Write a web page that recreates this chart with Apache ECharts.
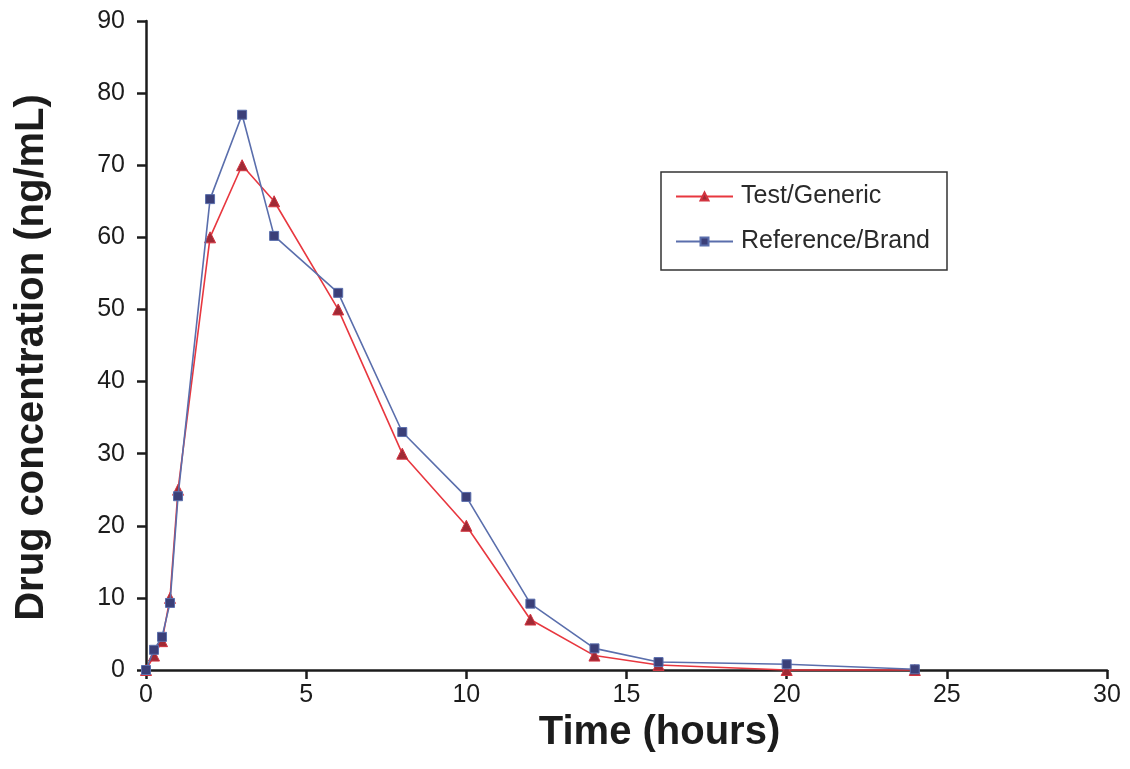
<!DOCTYPE html>
<html>
<head>
<meta charset="utf-8">
<script src="https://cdn.jsdelivr.net/npm/echarts@6/dist/echarts.min.js"></script>
<style>
  html, body { margin: 0; padding: 0; background: #ffffff; }
  #chart { width: 1130px; height: 769px; }
</style>
</head>
<body>
<div id="chart"></div>
<script>
// Sampling times (hours) and mean plasma concentrations (ng/mL)
const timeHours = [0, 0.25, 0.5, 0.75, 1, 2, 3, 4, 6, 8, 10, 12, 14, 16, 20, 24];
const testGeneric = [0, 2, 4, 10, 25, 60, 70, 65, 50, 30, 20, 7, 2, 0.7, 0, 0];
const referenceBrand = [0, 2.8, 4.6, 9.3, 24.1, 65.3, 77, 60.2, 52.3, 33, 24, 9.2, 3, 1.1, 0.8, 0.1];

const seriesNames = ['Test/Generic', 'Reference/Brand'];
const xAxisTitle = 'Time (hours)';
const yAxisTitle = 'Drug concentration (ng/mL)';

const FONT = '"Liberation Sans", Arial, Helvetica, sans-serif';
const INK = '#1c1c1c';

function pairs(xs, ys) {
  return xs.map((x, i) => [x, ys[i]]);
}

const axisCommon = {
  axisLine: { show: true, onZero: false, lineStyle: { color: INK, width: 2.5 } },
  axisTick: { show: true, length: 9, inside: false, lineStyle: { color: INK, width: 2.5 } },
  splitLine: { show: false },
  nameLocation: 'middle',
  nameTextStyle: { fontFamily: FONT, fontWeight: 'bold', fontSize: 40, color: INK }
};

const chart = echarts.init(document.getElementById('chart'), null, { renderer: 'canvas' });

chart.setOption({
  backgroundColor: '#ffffff',
  animation: false,
  grid: { left: 146, right: 23, top: 21, bottom: 99, containLabel: false },
  legend: {
    orient: 'vertical',
    left: 661,
    top: 172,
    padding: [12, 17, 16, 14],
    itemGap: 20,
    itemWidth: 57,
    itemHeight: 10,
    borderColor: '#333333',
    borderWidth: 1.5,
    textStyle: { fontFamily: FONT, fontSize: 25, color: '#2a2a2a', padding: [0, 0, 0, 3] },
    data: seriesNames
  },
  xAxis: Object.assign({}, axisCommon, {
    type: 'value',
    min: 0,
    max: 30,
    interval: 5,
    name: xAxisTitle,
    nameGap: 43,
    nameTextStyle: Object.assign({}, axisCommon.nameTextStyle, { padding: [0, 0, 0, 66] }),
    axisLabel: { fontFamily: FONT, fontSize: 25, color: INK, margin: 13 }
  }),
  yAxis: Object.assign({}, axisCommon, {
    type: 'value',
    min: 0,
    max: 90,
    interval: 10,
    name: yAxisTitle,
    nameGap: 94,
    nameTextStyle: Object.assign({}, axisCommon.nameTextStyle, { padding: [0, 24, 0, 0] }),
    axisLabel: { fontFamily: FONT, fontSize: 25, color: INK, margin: 21 }
  }),
  series: [
    {
      name: seriesNames[0],
      type: 'line',
      data: pairs(timeHours, testGeneric),
      symbol: 'triangle',
      symbolSize: 11,
      showAllSymbol: true,
      clip: false,
      lineStyle: { color: '#e8373f', width: 1.6 },
      itemStyle: { color: '#a02a35', borderColor: '#d23440', borderWidth: 1 },
      emphasis: { disabled: true },
      z: 3
    },
    {
      name: seriesNames[1],
      type: 'line',
      data: pairs(timeHours, referenceBrand),
      symbol: 'rect',
      symbolSize: 9,
      showAllSymbol: true,
      clip: false,
      lineStyle: { color: '#5a6eac', width: 1.6 },
      itemStyle: { color: '#3b3f78', borderColor: '#5a6eac', borderWidth: 1 },
      emphasis: { disabled: true },
      z: 4
    }
  ]
});
</script>
</body>
</html>
